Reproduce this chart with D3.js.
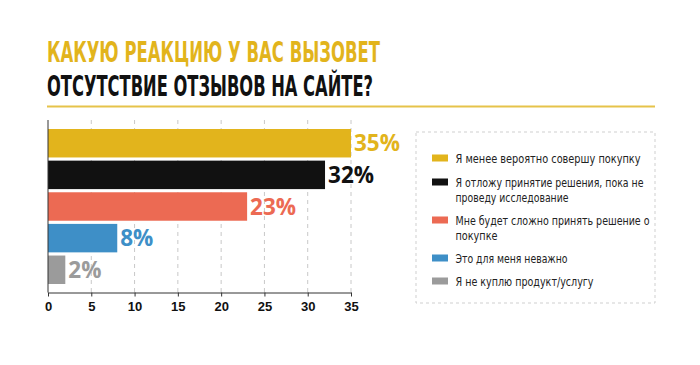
<!DOCTYPE html>
<html><head><meta charset="utf-8">
<script src="https://cdn.jsdelivr.net/npm/d3@7"></script>
<style>body{margin:0;background:#fff}svg{display:block}</style>
</head><body><svg id="c" width="700" height="365"></svg>
<script>
const categories = ["Я менее вероятно совершу покупку","Я отложу принятие решения, пока не проведу исследование","Мне будет сложно принять решение о покупке","Это для меня неважно","Я не куплю продукт/услугу"];
const legendLines = [["Я менее вероятно совершу покупку"],["Я отложу принятие решения, пока не","проведу исследование"],["Мне будет сложно принять решение о","покупке"],["Это для меня неважно"],["Я не куплю продукт/услугу"]];
const values = [35,32,23,8,2];
const colors = ["#E2B41C","#111111","#EC6A53","#3E8FC7","#9B9B9B"];
const tickValues = [0,5,10,15,20,25,30,35];
const titleLines = ["КАКУЮ РЕАКЦИЮ У ВАС ВЫЗОВЕТ","ОТСУТСТВИЕ ОТЗЫВОВ НА САЙТЕ?"];

// layout: rendered widths of legend lines (px)
const legendLineWidths = [[185],[188,113],[194,42],[112],[138]];

const svg = d3.select("#c");
const condensed = "'Liberation Sans Narrow','DejaVu Sans Condensed','Roboto Condensed',sans-serif";

// Title
svg.append("text").attr("x",47).attr("y",61.5).attr("fill","#E2B41C")
  .style("font-family",condensed).style("font-size","28px").style("font-weight","700")
  .attr("textLength",333).attr("lengthAdjust","spacingAndGlyphs").text(titleLines[0]);
svg.append("text").attr("x",47).attr("y",96).attr("fill","#111")
  .style("font-family",condensed).style("font-size","28px").style("font-weight","700")
  .attr("textLength",326).attr("lengthAdjust","spacingAndGlyphs").text(titleLines[1]);
svg.append("line").attr("x1",47).attr("x2",655).attr("y1",106.5).attr("y2",106.5)
  .attr("stroke","#E6C34A").attr("stroke-width",2);

// Chart
const x = d3.scaleLinear().domain([0,35]).range([48,351]);
const y = d3.scaleBand().domain(d3.range(values.length)).range([129,284]).paddingInner(0.1).paddingOuter(0);
const plotTop = 120, plotBottom = 292.5;

svg.append("g").selectAll("line").data(tickValues.slice(1)).join("line")
  .attr("x1",d=>x(d)).attr("x2",d=>x(d)).attr("y1",plotTop).attr("y2",plotBottom)
  .attr("stroke","#c8c8c8").attr("stroke-dasharray","4,4");

svg.append("g").selectAll("rect").data(values).join("rect")
  .attr("x",x(0)).attr("y",(d,i)=>y(i)).attr("width",d=>x(d)-x(0)).attr("height",y.bandwidth())
  .attr("fill",(d,i)=>colors[i]);

svg.append("g").selectAll("text").data(values).join("text")
  .attr("x",d=>x(d)+3).attr("y",(d,i)=>y(i)+y.bandwidth()/2+8)
  .attr("fill",(d,i)=>colors[i])
  .style("font-family","'Open Sans',sans-serif").style("font-weight","700").style("font-size","22.5px")
  .text(d=>d+"%");

// left axis line
svg.append("line").attr("x1",48).attr("x2",48).attr("y1",plotTop).attr("y2",plotBottom).attr("stroke","#333").attr("stroke-width",1);

const ax = svg.append("g").attr("transform",`translate(0,${plotBottom})`)
  .call(d3.axisBottom(x).tickValues(tickValues).tickSize(4).tickSizeOuter(0));
ax.select(".domain").attr("stroke","#333");
ax.selectAll(".tick line").attr("stroke","#333");
ax.selectAll(".tick text").attr("fill","#111").attr("dy","0.9em")
  .style("font-family","'Liberation Sans',Arial,sans-serif").style("font-weight","700").style("font-size","13px");

// Legend
svg.append("rect").attr("x",416).attr("y",132).attr("width",239).attr("height",171)
  .attr("fill","none").attr("stroke","#cfcfcf").attr("stroke-dasharray","3,3");
const legY = [158,182,220,258,281];
const lg = svg.append("g").selectAll("g").data(categories).join("g")
  .attr("transform",(d,i)=>`translate(432,${legY[i]})`);
lg.append("rect").attr("x",0).attr("y",-3.5).attr("width",16).attr("height",7).attr("fill",(d,i)=>colors[i]);
lg.each(function(d,i){
  const g = d3.select(this);
  legendLines[i].forEach((l,j)=>g.append("text").attr("x",23.5).attr("y",4.5+j*15)
    .style("font-family",condensed).style("font-size","12px").attr("fill","#222")
    .attr("textLength",legendLineWidths[i][j]).attr("lengthAdjust","spacingAndGlyphs").text(l));
});
</script></body></html>
